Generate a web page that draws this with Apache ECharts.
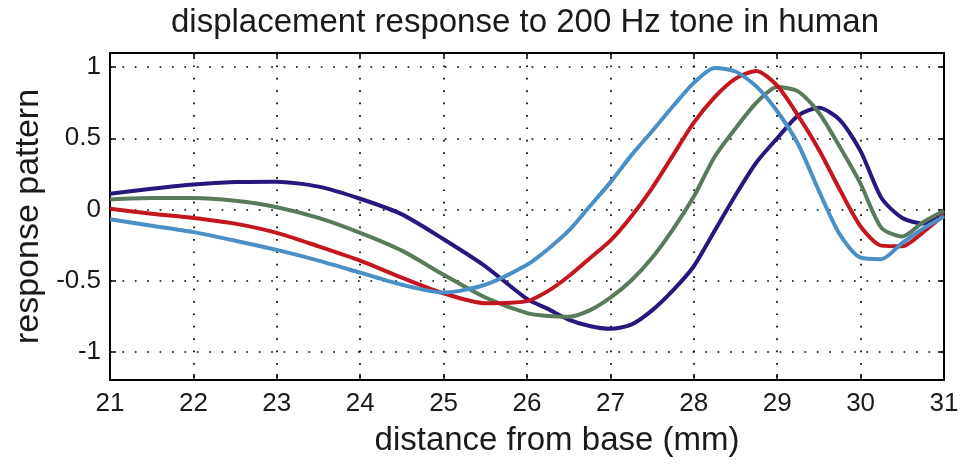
<!DOCTYPE html>
<html>
<head>
<meta charset="utf-8">
<script src="https://cdn.jsdelivr.net/npm/echarts@6/dist/echarts.min.js"></script>
<style>
  html, body { margin: 0; padding: 0; background: #fff; }
  #chart { width: 969px; height: 464px; }
</style>
</head>
<body>
<div id="chart"></div>
<script>
// distance from base (mm)
var xs = [21, 21.5, 22, 22.5, 23, 23.5, 24, 24.5, 25, 25.5, 26, 26.25, 26.5, 26.75, 27, 27.25, 27.5, 27.75,
  28, 28.25, 28.5, 28.75, 29, 29.25, 29.5, 29.75, 30, 30.25, 30.5, 30.75, 31];
// response curves
var navyY = [0.11, 0.145, 0.175, 0.192, 0.195, 0.16, 0.075, -0.035, -0.21, -0.40, -0.63, -0.70, -0.775, -0.82, -0.84, -0.81, -0.71, -0.57,
  -0.40, -0.15, 0.10, 0.33, 0.50, 0.66, 0.715, 0.63, 0.41, 0.08, -0.06, -0.10, -0.02];
var greenY = [0.07, 0.08, 0.08, 0.06, 0.015, -0.06, -0.165, -0.29, -0.46, -0.62, -0.73, -0.75, -0.755, -0.71, -0.62, -0.50, -0.34, -0.14,
  0.09, 0.37, 0.57, 0.75, 0.86, 0.83, 0.68, 0.44, 0.18, -0.13, -0.19, -0.09, -0.01];
var redY = [0.005, -0.03, -0.06, -0.10, -0.165, -0.26, -0.36, -0.48, -0.59, -0.66, -0.645, -0.575, -0.47, -0.345, -0.22, -0.05, 0.15, 0.38,
  0.61, 0.79, 0.92, 0.974, 0.87, 0.66, 0.42, 0.14, -0.12, -0.255, -0.26, -0.16, -0.04];
var blueY = [-0.07, -0.115, -0.16, -0.22, -0.285, -0.36, -0.445, -0.53, -0.585, -0.53, -0.39, -0.28, -0.15, 0.02, 0.19, 0.38, 0.55, 0.725,
  0.89, 0.995, 0.97, 0.865, 0.69, 0.46, 0.13, -0.176, -0.34, -0.35, -0.235, -0.135, -0.05];
var yTicks = [-1, -0.5, 0, 0.5, 1];

var FONT = '"Liberation Sans", Arial, Helvetica, sans-serif';
var chart = echarts.init(document.getElementById('chart'), null, { renderer: 'canvas' });

var pairs = function (ys) {
  return xs.map(function (x, i) { return [x, ys[i]]; });
};
var lineSeries = function (name, ys, color) {
  return {
    name: name,
    type: 'line',
    data: pairs(ys),
    showSymbol: false,
    smooth: 0.25,
    lineStyle: { color: color, width: 4 },
    itemStyle: { color: color },
    z: 3
  };
};

var dots = { color: '#000', width: 1.7, type: [1.7, 10.7] };
var boxLine = { onZero: false, show: true, lineStyle: { color: '#000', width: 2 } };

var option = {
  backgroundColor: '#fff',
  animation: false,
  // title sits over the plot centre, not the page centre
  graphic: [{
    type: 'text',
    x: 525,
    y: 6,
    style: {
      text: 'displacement response to 200 Hz tone in human',
      textAlign: 'center',
      textVerticalAlign: 'top',
      font: 'normal 33px ' + FONT,
      fill: '#1a1a1a'
    }
  }],
  grid: { left: 110, right: 25, top: 53, bottom: 84 },
  xAxis: [{
    type: 'value',
    min: 21, max: 31, interval: 1,
    name: 'distance from base (mm)',
    nameLocation: 'middle',
    nameGap: 44,
    nameTextStyle: { fontFamily: FONT, fontSize: 33, color: '#1a1a1a', padding: [0, 0, 0, 60] },
    axisLine: boxLine,
    axisTick: { inside: true, length: 6, lineStyle: { color: '#000', width: 1.5 } },
    axisLabel: { margin: 11, fontFamily: FONT, fontSize: 26, color: '#1a1a1a' },
    splitLine: { show: true, lineStyle: dots }
  }, {
    // top edge of the box
    type: 'value',
    position: 'top',
    min: 21, max: 31, interval: 1,
    axisLine: boxLine,
    axisTick: { inside: true, length: 6, lineStyle: { color: '#000', width: 1.5 } },
    axisLabel: { show: false },
    splitLine: { show: false }
  }],
  yAxis: [{
    type: 'value',
    min: -1.2, max: 1.1,
    name: 'response pattern',
    nameLocation: 'middle',
    nameGap: 61,
    nameTextStyle: { fontFamily: FONT, fontSize: 34, color: '#1a1a1a' },
    axisLine: boxLine,
    axisTick: { show: true, inside: true, length: 6, customValues: yTicks, lineStyle: { color: '#000', width: 1.5 } },
    axisLabel: { margin: 9, fontFamily: FONT, fontSize: 26, color: '#1a1a1a', customValues: yTicks },
    splitLine: { show: true, lineStyle: dots }
  }, {
    // right edge of the box
    type: 'value',
    position: 'right',
    min: -1.2, max: 1.1,
    axisLine: boxLine,
    axisTick: { show: true, inside: true, length: 6, customValues: yTicks, lineStyle: { color: '#000', width: 1.5 } },
    axisLabel: { show: false },
    splitLine: { show: false }
  }],
  series: [
    lineSeries('navy', navyY, '#26187c'),
    lineSeries('green', greenY, '#5a7a5c'),
    lineSeries('red', redY, '#c3161f'),
    lineSeries('blue', blueY, '#4b8fc7')
  ]
};
chart.setOption(option);
</script>
</body>
</html>
